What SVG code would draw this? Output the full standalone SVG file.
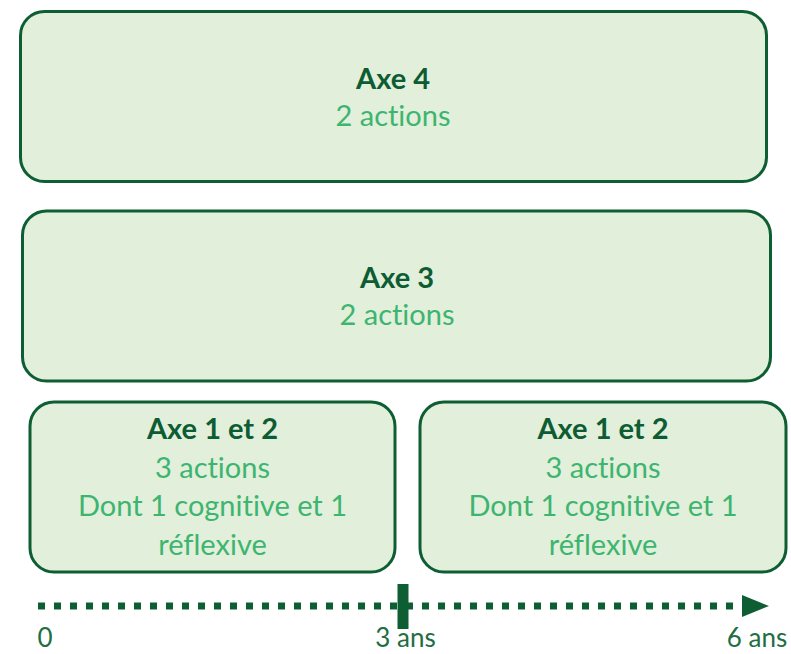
<svg xmlns="http://www.w3.org/2000/svg" width="791" height="654" viewBox="0 0 791 654">
<style>
.box{fill:#e2efda;stroke:#0e5e34;stroke-width:3}
.t{font-family:Lato,"Open Sans","Liberation Sans",sans-serif;font-size:29px;text-anchor:middle;font-variant-ligatures:none;font-feature-settings:"liga" 0}
.h{font-weight:bold;fill:#0d5c33}
.s{fill:#3db570}
.ax{fill:#226e43;font-size:26px}
.dot{stroke:#0e5e34;stroke-width:7;stroke-dasharray:7 9;fill:none}
</style>
<rect width="791" height="654" fill="#ffffff"/>
<g id="axe4">
<rect class="box" x="20.5" y="11.5" width="746" height="170" rx="24"/>
<text class="t h" x="393" y="89">Axe 4</text>
<text class="t s" x="393" y="126">2 actions</text>
</g>
<g id="axe3">
<rect class="box" x="22.5" y="211" width="748" height="170" rx="24"/>
<text class="t h" x="397" y="288">Axe 3</text>
<text class="t s" x="397" y="325">2 actions</text>
</g>
<g id="axe12a">
<rect class="box" x="30" y="402" width="365" height="170" rx="24"/>
<text class="t h" x="212.5" y="439">Axe 1 et 2</text>
<text class="t s" x="212.5" y="478">3 actions</text>
<text class="t s" x="212.5" y="516">Dont 1 cognitive et 1</text>
<text class="t s" x="212.5" y="555">réflexive</text>
</g>
<g id="axe12b">
<rect class="box" x="420" y="402" width="366" height="170" rx="24"/>
<text class="t h" x="603" y="439">Axe 1 et 2</text>
<text class="t s" x="603" y="478">3 actions</text>
<text class="t s" x="603" y="516">Dont 1 cognitive et 1</text>
<text class="t s" x="603" y="555">réflexive</text>
</g>
<g id="timeline">
<line class="dot" x1="38" y1="606" x2="748" y2="606"/>
<rect x="397.5" y="584" width="11" height="45" fill="#0e5e34"/>
<polygon points="742,595 769,606 742,617" fill="#0e5e34"/>
<text class="t ax" x="45" y="647">0</text>
<text class="t ax" x="405.5" y="647">3 ans</text>
<text class="t ax" x="757" y="647">6 ans</text>
</g>
</svg>
